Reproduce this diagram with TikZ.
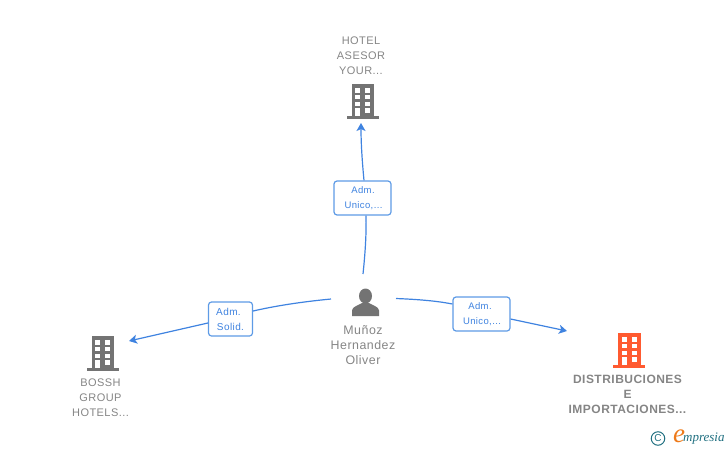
\documentclass[tikz,border=0pt]{standalone}
\usepackage{fontspec}
\setmainfont{Liberation Sans}
\newfontfamily\spaced[LetterSpace=4]{Liberation Sans}
\newfontfamily\logofont{Liberation Serif}
\usetikzlibrary{arrows.meta}
\definecolor{linkblue}{HTML}{3F83E0}
\definecolor{boxblue}{HTML}{5E9BE6}
\definecolor{icongray}{HTML}{737373}
\definecolor{textgray}{HTML}{858585}
\definecolor{iconorange}{HTML}{FF5A30}
\definecolor{logoteal}{HTML}{1F6F80}
\definecolor{logoorange}{HTML}{EE7A1A}
\tikzset{
  link/.style={draw=linkblue,line width=1.2pt},
  arrowlink/.style={link,-{Stealth[length=8pt,width=9pt,inset=2pt]}},
  rolebox/.style={draw=boxblue,line width=1.2pt,rounded corners=3pt,fill=white,text=linkblue,
    font=\fontsize{9.5}{15}\selectfont\spaced,align=center,inner sep=0pt,minimum height=34pt},
  entity/.style={text=textgray,font=\fontsize{11}{15}\selectfont\spaced,align=center,inner sep=0pt},
  personname/.style={text=textgray,font=\fontsize{12.4}{15}\selectfont\spaced,align=center,inner sep=0pt},
  entitybold/.style={text=textgray,font=\fontsize{12}{15}\selectfont\bfseries\spaced,align=center,inner sep=0pt},
  iconspot/.style={inner sep=0pt,minimum width=32pt,minimum height=34pt},
  pics/building/.style={code={
    \fill[#1] (-11,-17) rectangle (11.5,15);
    \fill[#1] (-16,14.5) rectangle (16,17.5);
    \foreach \yy in {-12.7,-6,0.7}{
      \fill[white] (-7.5,\yy) rectangle (-2.5,\yy+4.2);
      \fill[white] (2.5,\yy) rectangle (7.5,\yy+4.2);}
    \fill[white] (-7.5,7.3) rectangle (-2.5,15);
    \fill[white] (2.5,7.3) rectangle (7.5,11.5);
  }},
}
\begin{document}
\begin{tikzpicture}[x=1pt,y=-1pt]
\useasboundingbox (0,0) rectangle (728,450);
% icons
\pic at (362.5,101) {building=icongray};
\pic at (102.5,353) {building=icongray};
\pic at (629,350) {building=iconorange};
\fill[icongray] (365.5,296) ellipse (6.5 and 7.5);
\fill[icongray] (352,316) -- (352,310.5) .. controls (352.5,306.5) and (358,305.5) .. (362,303) -- (369,303) .. controls (373,305.5) and (378.5,306.5) .. (379,310.5) -- (379,316) -- cycle;
% invisible anchors for icons
\node[iconspot] (hotel) at (362.5,101) {};
\node[iconspot] (bossh) at (102.5,353) {};
\node[iconspot] (dist) at (629,350) {};
\node[iconspot] (person) at (365.5,302) {};
% labels
\node[entity] (hotellabel) at (361,56) {HOTEL\\ASESOR\\YOUR...};
\node[entity] (bosshlabel) at (100.5,398) {BOSSH\\GROUP\\HOTELS...};
\node[personname] (personlabel) at (363,345.5) {Muñoz\\Hernandez\\Oliver};
\node[entitybold] (distlabel) at (627.5,394.5) {DISTRIBUCIONES\\E\\IMPORTACIONES...};
% role boxes
\node[rolebox,minimum width=57pt] (r1) at (362.5,198) {\hspace*{1pt}Adm.\\\hspace*{2pt}Unico,...};
\node[rolebox,minimum width=44pt] (r2) at (230.5,319) {\fontsize{10}{15}\selectfont\spaced Adm.\hspace*{4pt}\\\fontsize{10}{15}\selectfont\spaced Solid.};
\node[rolebox,minimum width=57pt] (r3) at (481.5,314) {\hspace*{-3pt}Adm.\\\hspace*{1pt}Unico,...};
% free ends
\coordinate (p1) at (363,274);
\coordinate (p2) at (331,299);
\coordinate (p3) at (396,298.5);
\coordinate (h1) at (361,123);
\coordinate (b1) at (129,341);
\coordinate (d1) at (567,331);
% connectors
\draw[link] (p1) .. controls (365,255) and (366.5,235) .. (r1.south-|366,0);
\draw[arrowlink] (r1.north-|364,0) .. controls (362.5,165) and (361,145) .. (h1);
\draw[link] (p2) .. controls (300,302) and (275,306) .. (r2.east|-0,311);
\draw[arrowlink] (r2.west|-0,323) -- (b1);
\draw[link] (p3) .. controls (420,299.5) and (437,301) .. (r3.west|-0,304);
\draw[arrowlink] (r3.east|-0,319) -- (d1);
% logo
\node[draw=logoteal,circle,line width=1pt,inner sep=0pt,minimum size=13.5pt,text=logoteal,font=\fontsize{10}{10}\selectfont] (copyr) at (658,438.5) {C};
\node[text=logoorange,font=\fontsize{27}{27}\selectfont\logofont\itshape,inner sep=0pt] (logoe) at (679,436) {e};
\node[text=logoteal,font=\fontsize{13}{14}\selectfont\logofont\itshape,inner sep=0pt,anchor=west] (logotext) at (683,438.5) {mpresia};
\end{tikzpicture}
\end{document}
